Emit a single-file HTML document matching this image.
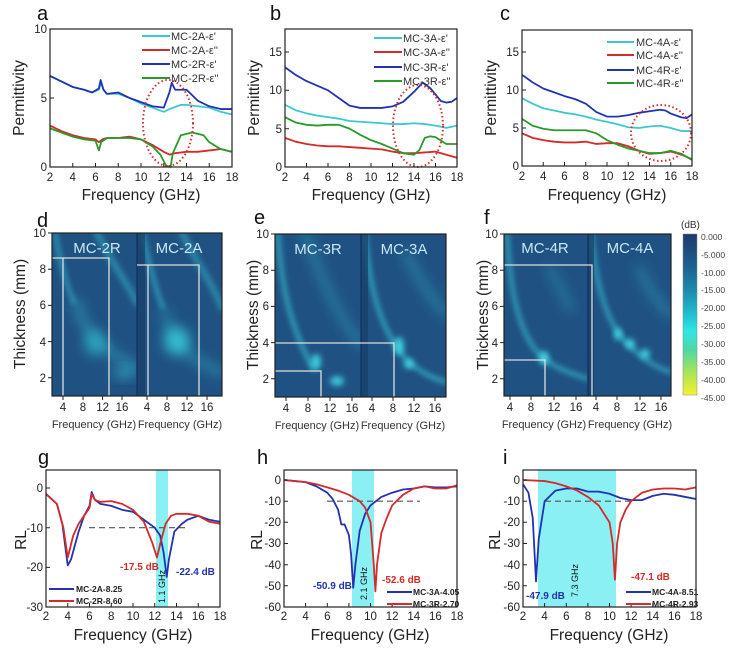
<!DOCTYPE html>
<html><head><meta charset="utf-8"><style>
html,body{margin:0;padding:0;background:#fff;}
svg{display:block;font-family:"Liberation Sans",sans-serif;}
.ax{fill:none;stroke:#222;stroke-width:1.2}
.tk{stroke:#222;stroke-width:1}
.c{fill:none;stroke-width:1.8;vector-effect:non-scaling-stroke;stroke-linejoin:round}
.t{font-size:11.5px;fill:#222}
.lg{font-size:11px;fill:#333}
.lb{font-size:8.5px;font-weight:bold;fill:#222}
.L{font-size:20px;fill:#111}
.xl{font-size:15.5px;fill:#222}
.hx{font-size:11px;fill:#333}
.hl{fill:none;stroke:#ddd;stroke-width:1.3}
.glow{fill:none;stroke:#3fe0e8;stroke-linecap:round}
</style></head><body>
<svg width="749" height="649" viewBox="0 0 749 649" xmlns="http://www.w3.org/2000/svg">
<defs>
<filter id="bl" x="-50%" y="-50%" width="200%" height="200%"><feGaussianBlur stdDeviation="3"/></filter>
<filter id="bl2" x="-50%" y="-50%" width="200%" height="200%"><feGaussianBlur stdDeviation="6"/></filter>
<linearGradient id="cb" x1="0" y1="0" x2="0" y2="1">
<stop offset="0" stop-color="#1b3a6c"/><stop offset="0.2" stop-color="#1e5f8e"/><stop offset="0.35" stop-color="#1c8aac"/>
<stop offset="0.5" stop-color="#1ec0d2"/><stop offset="0.6" stop-color="#2ee6e6"/><stop offset="0.72" stop-color="#4ed8a6"/>
<stop offset="0.85" stop-color="#a5e25a"/><stop offset="1" stop-color="#f4f22c"/></linearGradient>
</defs>

<!-- ============ Panel a ============ -->
<text class="L" x="37" y="20">a</text>
<g transform="translate(27.25,167) scale(11.375,-13.8)">
<polyline class="c" stroke="#3cc8d0" points="2,6.6 3,6.2 4,5.8 5,5.6 5.7,5.4 6.3,5.6 6.5,6.1 6.7,5.6 7,5.3 8,5.3 9,5.0 10,4.6 11,4.3 12,4.0 12.5,4.2 13.5,4.5 14,4.5 15,4.4 16,4.3 17,4.0 18,3.8"/>
<polyline class="c" stroke="#d42a2a" points="2,3.0 3,2.6 4,2.3 5,2.1 6,2.0 6.3,1.8 6.6,2.0 7,2.1 8,2.1 9,2.2 10,2.0 11,1.6 12,1.1 12.5,0.9 13,1.0 14,1.1 15,1.1 16,1.2 17,1.3 18,1.1"/>
<polyline class="c" stroke="#2233b0" points="2,6.6 3,6.2 4,5.8 5,5.6 5.7,5.4 6.3,5.7 6.45,6.3 6.7,5.6 7,5.3 8,5.4 9,5.0 10,4.7 11,4.4 12,4.3 12.5,5.4 12.7,6.1 13,5.6 14,5.6 15,4.8 16,4.4 17,4.2 18,4.2"/>
<polyline class="c" stroke="#2a9a2a" points="2,2.8 3,2.5 4,2.2 5,2.0 6,1.9 6.3,1.2 6.5,1.8 7,2.1 8,2.1 9,2.1 10,2.0 11,1.5 11.7,0.9 12.2,0.1 12.6,0 12.8,1.0 13.5,2.3 14.5,2.5 15.5,2.3 16,1.8 17,1.3 18,1.1"/>
</g>
<ellipse cx="168" cy="123" rx="25" ry="43" fill="none" stroke="#d43030" stroke-width="2" stroke-dasharray="1.5 2.5"/>
<rect class="ax" x="50" y="29" width="182" height="138"/>
<g class="tk"><path d="M50,167v-4M72.75,167v-4M95.5,167v-4M118.25,167v-4M141,167v-4M163.75,167v-4M186.5,167v-4M209.25,167v-4M232,167v-4M50,167h4M50,98h4M50,29h4"/></g>
<g class="t" text-anchor="middle"><text x="50" y="181">2</text><text x="72.75" y="181">4</text><text x="95.5" y="181">6</text><text x="118.25" y="181">8</text><text x="141" y="181">10</text><text x="163.75" y="181">12</text><text x="186.5" y="181">14</text><text x="209.25" y="181">16</text><text x="232" y="181">18</text></g>
<g class="t" text-anchor="end"><text x="47" y="171">0</text><text x="47" y="102">5</text><text x="47" y="33">10</text></g>
<text class="xl" x="141" y="200" text-anchor="middle">Frequency (GHz)</text>
<text class="xl" transform="translate(24,98) rotate(-90)" text-anchor="middle">Permittivity</text>
<g stroke-width="2"><line x1="142" y1="36" x2="170" y2="36" stroke="#3cc8d0"/><line x1="142" y1="50" x2="170" y2="50" stroke="#d42a2a"/><line x1="142" y1="64" x2="170" y2="64" stroke="#2233b0"/><line x1="142" y1="78" x2="170" y2="78" stroke="#2a9a2a"/></g>
<g class="lg"><text x="171" y="40">MC-2A-ε'</text><text x="171" y="54">MC-2A-ε''</text><text x="171" y="68">MC-2R-ε'</text><text x="171" y="82">MC-2R-ε''</text></g>

<!-- ============ Panel b ============ -->
<text class="L" x="270" y="20">b</text>
<g transform="translate(263.5,167) scale(10.75,-7.67)">
<polyline class="c" stroke="#3cc8d0" points="2,8.1 3,7.4 4,7 5,6.7 6,6.5 7,6.3 8,6.0 9,5.9 10,5.8 11,5.7 12,5.6 13,5.6 14,5.7 15,5.6 16,5.4 17,5.1 18,5.4"/>
<polyline class="c" stroke="#d42a2a" points="2,3.8 3,3.3 4,3.0 5,2.8 6,2.7 7,2.7 8,2.6 9,2.5 10,2.4 11,2.3 12,2.0 13,1.8 14,1.8 15,1.9 16,2.0 17,1.6 18,1.2"/>
<polyline class="c" stroke="#2233b0" points="2,13 3,12 4,11.2 5,10.6 6,10 7,9 8,8 9,7.7 10,7.7 11,7.7 12,7.9 13,8.5 14,9.8 14.8,11 15.5,10.3 16.5,8.6 17,8.4 17.5,8.5 18,9"/>
<polyline class="c" stroke="#2a9a2a" points="2,6.5 3,5.8 4,5.5 5,5.4 6,5.5 7,5.5 8,5.0 9,4.2 10,3.5 11,3.0 12,2.4 13,1.8 14,1.6 14.5,2.2 15,3.8 15.5,4 16,3.9 17,3.0 18,3.0"/>
</g>
<ellipse cx="418" cy="126" rx="25" ry="41" fill="none" stroke="#d43030" stroke-width="2" stroke-dasharray="1.5 2.5"/>
<rect class="ax" x="285" y="29" width="172" height="138"/>
<g class="tk"><path d="M285,167v-4M306.5,167v-4M328,167v-4M349.5,167v-4M371,167v-4M392.5,167v-4M414,167v-4M435.5,167v-4M457,167v-4M285,167h4M285,128.7h4M285,90.3h4M285,52h4"/></g>
<g class="t" text-anchor="middle"><text x="285" y="181">2</text><text x="306.5" y="181">4</text><text x="328" y="181">6</text><text x="349.5" y="181">8</text><text x="371" y="181">10</text><text x="392.5" y="181">12</text><text x="414" y="181">14</text><text x="435.5" y="181">16</text><text x="457" y="181">18</text></g>
<g class="t" text-anchor="end"><text x="282" y="171">0</text><text x="282" y="133">5</text><text x="282" y="94">10</text><text x="282" y="56">15</text></g>
<text class="xl" x="371" y="200" text-anchor="middle">Frequency (GHz)</text>
<text class="xl" transform="translate(259,98) rotate(-90)" text-anchor="middle">Permittivity</text>
<g stroke-width="2"><line x1="374" y1="38" x2="402" y2="38" stroke="#3cc8d0"/><line x1="374" y1="52" x2="402" y2="52" stroke="#d42a2a"/><line x1="374" y1="67" x2="402" y2="67" stroke="#2233b0"/><line x1="374" y1="81" x2="402" y2="81" stroke="#2a9a2a"/></g>
<g class="lg"><text x="403" y="42">MC-3A-ε'</text><text x="403" y="56">MC-3A-ε''</text><text x="403" y="71">MC-3R-ε'</text><text x="403" y="85">MC-3R-ε''</text></g>

<!-- ============ Panel c ============ -->
<text class="L" x="500" y="20">c</text>
<g transform="translate(500.75,166) scale(10.625,-7.6)">
<polyline class="c" stroke="#3cc8d0" points="2,8.9 3,8.2 4,7.6 5,7.3 6,7 7,6.8 8,6.5 9,6.1 10,5.8 11,5.5 12,5.1 13,5 14,5.2 15,5.3 16,5 17,4.6 18,4.6"/>
<polyline class="c" stroke="#d42a2a" points="2,4.3 3,3.7 4,3.4 5,3.2 6,3.1 7,3.1 8,3.2 9,2.9 10,3.0 11,3.0 12,2.6 13,2.0 14,1.6 15,1.7 16,1.9 17,1.5 18,0.9"/>
<polyline class="c" stroke="#2233b0" points="2,12 3,11 4,10.2 5,9.7 6,9.2 7,8.8 8,8.2 9,7.1 10,6.5 11,6.5 12,6.7 13,7 14,7.2 15,7.4 15.5,7.3 16,6.9 17,6.4 17.5,6.3 18,6.8"/>
<polyline class="c" stroke="#2a9a2a" points="2,6.2 3,5.3 4,4.9 5,4.7 6,4.7 7,4.7 8,4.7 9,4.3 10,3.4 11,2.8 12,2.3 13,2.0 14,1.7 15,1.7 16,2.0 17,1.6 18,0.8"/>
</g>
<ellipse cx="661" cy="133" rx="30" ry="28" fill="none" stroke="#d43030" stroke-width="2" stroke-dasharray="1.5 2.5"/>
<rect class="ax" x="522" y="30" width="170" height="136"/>
<g class="tk"><path d="M522,166v-4M543.25,166v-4M564.5,166v-4M585.75,166v-4M607,166v-4M628.25,166v-4M649.5,166v-4M670.75,166v-4M692,166v-4M522,166h4M522,128h4M522,90h4M522,52h4"/></g>
<g class="t" text-anchor="middle"><text x="522" y="180">2</text><text x="543.25" y="180">4</text><text x="564.5" y="180">6</text><text x="585.75" y="180">8</text><text x="607" y="180">10</text><text x="628.25" y="180">12</text><text x="649.5" y="180">14</text><text x="670.75" y="180">16</text><text x="692" y="180">18</text></g>
<g class="t" text-anchor="end"><text x="519" y="170">0</text><text x="519" y="132">5</text><text x="519" y="94">10</text><text x="519" y="56">15</text></g>
<text class="xl" x="607" y="200" text-anchor="middle">Frequency (GHz)</text>
<text class="xl" transform="translate(496,98) rotate(-90)" text-anchor="middle">Permittivity</text>
<g stroke-width="2"><line x1="607" y1="42" x2="634" y2="42" stroke="#3cc8d0"/><line x1="607" y1="55" x2="634" y2="55" stroke="#d42a2a"/><line x1="607" y1="70" x2="634" y2="70" stroke="#2233b0"/><line x1="607" y1="83" x2="634" y2="83" stroke="#2a9a2a"/></g>
<g class="lg"><text x="636" y="46">MC-4A-ε'</text><text x="636" y="59">MC-4A-ε''</text><text x="636" y="74">MC-4R-ε'</text><text x="636" y="87">MC-4R-ε''</text></g>

<!-- ============ Panel d ============ -->
<text class="L" x="37" y="227">d</text>
<svg x="52" y="233" width="85" height="163" overflow="hidden">
<rect width="85" height="163" fill="#1f5282"/>
<path class="glow" d="M3,0 C8,30 14,50 22,70" stroke-width="3" filter="url(#bl)" opacity="0.7"/>
<path class="glow" d="M45,0 C60,30 75,50 85,70" stroke-width="6" filter="url(#bl)" opacity="0.4"/>
<ellipse cx="43" cy="110" rx="11" ry="13" fill="#30c0d0" filter="url(#bl2)" opacity="0.6"/>
<path class="glow" d="M25,70 C30,95 45,115 85,135" stroke-width="8" filter="url(#bl2)" opacity="0.4"/>
<ellipse cx="72" cy="140" rx="11" ry="6" fill="#35c8d8" filter="url(#bl2)" opacity="0.55"/>
<line x1="23" y1="60" x2="23" y2="163" stroke="#173e66" stroke-width="3" filter="url(#bl)"/>
</svg>
<svg x="137" y="233" width="85" height="163" overflow="hidden">
<rect width="85" height="163" fill="#1f5282"/>
<path class="glow" d="M5,0 C12,30 18,55 26,75" stroke-width="3" filter="url(#bl)" opacity="0.75"/>
<path class="glow" d="M45,0 C60,30 75,50 85,75" stroke-width="6" filter="url(#bl)" opacity="0.4"/>
<ellipse cx="40" cy="108" rx="13" ry="14" fill="#38d4e0" filter="url(#bl2)" opacity="0.75"/>
<path class="glow" d="M28,80 C35,110 50,125 85,140" stroke-width="8" filter="url(#bl2)" opacity="0.35"/>
<rect x="0" y="0" width="8" height="163" fill="#173e66" opacity="0.7"/>
</svg>
<line x1="137" y1="233" x2="137" y2="396" stroke="#163560" stroke-width="1.5"/>
<g class="hl"><path d="M52,258H109V396M63,258V396"/><path d="M137,265H199V396M148,265V396"/></g>
<text x="97" y="253" text-anchor="middle" font-size="15" fill="#c8e8f0">MC-2R</text>
<text x="179" y="253" text-anchor="middle" font-size="15" fill="#c8e8f0">MC-2A</text>
<rect class="ax" x="52" y="233" width="170" height="163"/>
<g class="tk"><path d="M52,233h-4M52,269.2h-4M52,305.4h-4M52,341.6h-4M52,377.8h-4M63,396v4M83,396v4M102.6,396v4M122,396v4M147,396v4M167,396v4M187,396v4M207,396v4"/></g>
<g class="t" text-anchor="end"><text x="46" y="237">10</text><text x="46" y="273">8</text><text x="46" y="309">6</text><text x="46" y="346">4</text><text x="46" y="382">2</text></g>
<g class="t" text-anchor="middle"><text x="63" y="411">4</text><text x="83" y="411">8</text><text x="102.6" y="411">12</text><text x="122" y="411">16</text><text x="147" y="411">4</text><text x="167" y="411">8</text><text x="187" y="411">12</text><text x="207" y="411">16</text></g>
<text class="hx" x="94" y="428" text-anchor="middle">Frequency (GHz)</text><text class="hx" x="180" y="428" text-anchor="middle">Frequency (GHz)</text>
<text class="xl" transform="translate(25,314) rotate(-90)" text-anchor="middle" font-size="14">Thickness (mm)</text>

<!-- ============ Panel e ============ -->
<text class="L" x="254" y="224">e</text>
<svg x="275" y="234" width="86" height="163" overflow="hidden">
<rect width="86" height="163" fill="#1f5282"/>
<path class="glow" d="M3,0 C6,50 14,90 38,135" stroke-width="3" filter="url(#bl)" opacity="0.85"/>
<path class="glow" d="M30,0 C45,40 60,80 86,110" stroke-width="7" filter="url(#bl2)" opacity="0.35"/>
<ellipse cx="41" cy="128" rx="5" ry="8" fill="#45e0ea" filter="url(#bl)" opacity="0.85"/>
<ellipse cx="62" cy="147" rx="7" ry="5" fill="#40d8e6" filter="url(#bl)" opacity="0.85"/>
</svg>
<svg x="361" y="234" width="85" height="163" overflow="hidden">
<rect width="85" height="163" fill="#1f5282"/>
<path class="glow" d="M4,0 C8,50 18,95 45,125 C60,140 75,145 85,148" stroke-width="3" filter="url(#bl)" opacity="0.85"/>
<ellipse cx="38" cy="112" rx="5" ry="9" fill="#45e0ea" filter="url(#bl)" opacity="0.85"/>
<ellipse cx="48" cy="130" rx="5" ry="5" fill="#45e0ea" filter="url(#bl)" opacity="0.85"/>
<path class="glow" d="M45,20 C60,50 75,70 85,80" stroke-width="7" filter="url(#bl2)" opacity="0.35"/>
<rect x="0" y="0" width="7" height="163" fill="#173e66" opacity="0.7"/>
</svg>
<line x1="361" y1="234" x2="361" y2="397" stroke="#163560" stroke-width="1.5"/>
<g class="hl"><path d="M275,343H394V397M275,371H321V397"/></g>
<text x="318" y="254" text-anchor="middle" font-size="15" fill="#c8e8f0">MC-3R</text>
<text x="404" y="254" text-anchor="middle" font-size="15" fill="#c8e8f0">MC-3A</text>
<rect class="ax" x="275" y="234" width="171" height="163"/>
<g class="tk"><path d="M275,234h-4M275,270.2h-4M275,306.4h-4M275,342.6h-4M275,378.8h-4M286,397v4M308,397v4M330,397v4M352,397v4M372,397v4M393,397v4M414,397v4M435,397v4"/></g>
<g class="t" text-anchor="end"><text x="269" y="238">10</text><text x="269" y="274">8</text><text x="269" y="310">6</text><text x="269" y="347">4</text><text x="269" y="383">2</text></g>
<g class="t" text-anchor="middle"><text x="286" y="412">4</text><text x="308" y="412">8</text><text x="330" y="412">12</text><text x="352" y="412">16</text><text x="372" y="412">4</text><text x="393" y="412">8</text><text x="414" y="412">12</text><text x="435" y="412">16</text></g>
<text class="hx" x="317" y="429" text-anchor="middle">Frequency (GHz)</text><text class="hx" x="403" y="429" text-anchor="middle">Frequency (GHz)</text>
<text class="xl" transform="translate(258,315) rotate(-90)" text-anchor="middle" font-size="14">Thickness (mm)</text>

<!-- ============ Panel f ============ -->
<text class="L" x="484" y="224">f</text>
<svg x="504" y="234" width="84" height="162" overflow="hidden">
<rect width="84" height="162" fill="#1f5282"/>
<path class="glow" d="M3,0 C6,50 12,95 35,120 C50,135 70,140 84,145" stroke-width="3" filter="url(#bl)" opacity="0.8"/>
<ellipse cx="40" cy="124" rx="5" ry="7" fill="#45e0ea" filter="url(#bl)" opacity="0.85"/>
<path class="glow" d="M45,35 C55,50 60,60 66,75" stroke-width="6" filter="url(#bl2)" opacity="0.35"/>
</svg>
<svg x="588" y="234" width="83" height="162" overflow="hidden">
<rect width="83" height="162" fill="#1f5282"/>
<path class="glow" d="M3,0 C8,50 18,90 40,110 C55,125 70,135 83,138" stroke-width="3" filter="url(#bl)" opacity="0.8"/>
<ellipse cx="30" cy="100" rx="4" ry="6" fill="#45e0ea" filter="url(#bl)" opacity="0.85"/>
<ellipse cx="42" cy="110" rx="5" ry="5" fill="#45e0ea" filter="url(#bl)" opacity="0.85"/>
<ellipse cx="57" cy="120" rx="5" ry="5" fill="#45e0ea" filter="url(#bl)" opacity="0.85"/>
<path class="glow" d="M52,35 C60,55 70,70 83,80" stroke-width="7" filter="url(#bl2)" opacity="0.35"/>
<rect x="0" y="0" width="6" height="162" fill="#173e66" opacity="0.7"/>
</svg>
<line x1="588" y1="234" x2="588" y2="396" stroke="#163560" stroke-width="1.5"/>
<g class="hl"><path d="M504,265H592V396M504,360H545V396"/></g>
<text x="545" y="253" text-anchor="middle" font-size="15" fill="#c8e8f0">MC-4R</text>
<text x="630" y="253" text-anchor="middle" font-size="15" fill="#c8e8f0">MC-4A</text>
<rect class="ax" x="504" y="234" width="167" height="162"/>
<g class="tk"><path d="M504,234h-4M504,270.2h-4M504,306.4h-4M504,342.6h-4M504,378.8h-4M510,396v4M531,396v4M554,396v4M576,396v4M596,396v4M617,396v4M640,396v4M661,396v4"/></g>
<g class="t" text-anchor="end"><text x="498" y="238">10</text><text x="498" y="274">8</text><text x="498" y="310">6</text><text x="498" y="347">4</text><text x="498" y="383">2</text></g>
<g class="t" text-anchor="middle"><text x="510" y="411">4</text><text x="531" y="411">8</text><text x="554" y="411">12</text><text x="576" y="411">16</text><text x="596" y="411">4</text><text x="617" y="411">8</text><text x="640" y="411">12</text><text x="661" y="411">16</text></g>
<text class="hx" x="544" y="428" text-anchor="middle">Frequency (GHz)</text><text class="hx" x="630" y="428" text-anchor="middle">Frequency (GHz)</text>
<text class="xl" transform="translate(488,315) rotate(-90)" text-anchor="middle" font-size="14">Thickness (mm)</text>

<!-- colorbar -->
<rect x="683" y="234" width="14" height="161" fill="url(#cb)" stroke="#888" stroke-width="0.5"/>
<text x="681" y="228" font-size="10" fill="#333">(dB)</text>
<g font-size="8.5" fill="#444">
<text x="701" y="240">0.000</text><text x="701" y="258">-5.000</text><text x="701" y="276">-10.00</text><text x="701" y="293">-15.00</text><text x="701" y="311">-20.00</text><text x="701" y="329">-25.00</text><text x="701" y="347">-30.00</text><text x="701" y="365">-35.00</text><text x="701" y="383">-40.00</text><text x="701" y="401">-45.00</text></g>

<!-- ============ Panel g ============ -->
<text class="L" x="38" y="464">g</text>
<rect x="156" y="470" width="12" height="137" fill="#8af0f4"/>
<line x1="89" y1="527.7" x2="187" y2="527.7" stroke="#555" stroke-width="1.2" stroke-dasharray="6 4"/>
<g transform="translate(24.25,488) scale(10.875,-3.97)">
<polyline class="c" stroke="#2233b0" points="2,-1.5 3,-4 3.5,-9 4,-19.5 4.3,-18 5,-11 5.5,-7 6,-4.5 6.2,-1 6.5,-3 7,-4 8,-4.5 9,-5.5 10,-6 11,-8 12,-10 12.5,-12 12.8,-16 13.1,-22.4 13.3,-18 13.8,-11 14.5,-9 15,-8 16,-7 17,-8 18,-8.5"/>
<polyline class="c" stroke="#d42a2a" points="2,-1.5 3,-4 3.6,-10 4,-17.5 4.5,-12 5,-9 6,-5 6.2,-1.5 6.5,-3 7,-3.5 8,-3.3 9,-4 10,-5.5 11,-8.5 11.8,-14 12.2,-17.5 12.6,-13 13,-9 13.5,-7 14,-6.5 15,-6.5 16,-7 17,-8.5 18,-9"/>
</g>
<rect class="ax" x="46" y="470" width="174" height="137"/>
<g class="tk"><path d="M46,607v-4M67.75,607v-4M89.5,607v-4M111.25,607v-4M133,607v-4M154.75,607v-4M176.5,607v-4M198.25,607v-4M220,607v-4M46,488h4M46,527.7h4M46,567.4h4M46,607h4"/></g>
<g class="t" text-anchor="middle" font-size="11"><text x="46" y="620">2</text><text x="67.75" y="620">4</text><text x="89.5" y="620">6</text><text x="111.25" y="620">8</text><text x="133" y="620">10</text><text x="154.75" y="620">12</text><text x="176.5" y="620">14</text><text x="198.25" y="620">16</text><text x="220" y="620">18</text></g>
<g class="t" text-anchor="end"><text x="43" y="492">0</text><text x="43" y="532">-10</text><text x="43" y="571">-20</text><text x="43" y="611">-30</text></g>
<text class="xl" x="133" y="640" text-anchor="middle" font-size="17">Frequency (GHz)</text>
<text class="xl" transform="translate(26,540) rotate(-90)" text-anchor="middle" font-size="17">RL</text>
<text x="120" y="570" font-size="10" font-weight="bold" fill="#d42a2a">-17.5 dB</text>
<text x="176" y="575" font-size="10" font-weight="bold" fill="#2233b0">-22.4 dB</text>
<text transform="translate(165,603) rotate(-90)" font-size="9" fill="#111">1.1 GHz</text>
<g stroke-width="2"><line x1="49" y1="589" x2="74" y2="589" stroke="#2233b0"/><line x1="49" y1="601" x2="74" y2="601" stroke="#d42a2a"/></g>
<g class="lb"><text x="76" y="592">MC-2A-8.25</text><text x="76" y="604">MC-2R-8.60</text></g>

<!-- ============ Panel h ============ -->
<text class="L" x="257" y="464">h</text>
<rect x="352" y="470" width="22" height="137" fill="#8af0f4"/>
<line x1="327" y1="501.2" x2="420" y2="501.2" stroke="#555" stroke-width="1.2" stroke-dasharray="6 4"/>
<g transform="translate(262.4,480) scale(10.8125,-2.117)">
<polyline class="c" stroke="#2233b0" points="2,0 3,-0.5 4,-1 5,-3 6,-6 6.5,-9 7,-14 7.3,-21 7.6,-21 8,-26 8.2,-35 8.4,-50.9 8.6,-40 9,-24 9.5,-16 10,-12 11,-8 12,-6 13,-4.5 14,-4 15,-3 16,-3.5 17,-3.5 18,-3"/>
<polyline class="c" stroke="#d42a2a" points="2,0 4,-1 5,-2 6,-3.5 7,-5 8,-7 9,-10 9.5,-13 10,-20 10.3,-40 10.45,-52.6 10.6,-40 11,-25 11.5,-18 12,-12 13,-7 14,-4 15,-3 16,-4 17,-4 18,-2.5"/>
</g>
<rect class="ax" x="284" y="470" width="173" height="137"/>
<g class="tk"><path d="M284,607v-4M305.6,607v-4M327.3,607v-4M348.9,607v-4M370.5,607v-4M392.1,607v-4M413.8,607v-4M435.4,607v-4M457,607v-4M284,480h4M284,501.2h4M284,522.3h4M284,543.5h4M284,564.7h4M284,585.8h4M284,607h4"/></g>
<g class="t" text-anchor="middle" font-size="11"><text x="284" y="620">2</text><text x="305.6" y="620">4</text><text x="327.3" y="620">6</text><text x="348.9" y="620">8</text><text x="370.5" y="620">10</text><text x="392.1" y="620">12</text><text x="413.8" y="620">14</text><text x="435.4" y="620">16</text><text x="457" y="620">18</text></g>
<g class="t" text-anchor="end"><text x="281" y="484">0</text><text x="281" y="505">-10</text><text x="281" y="526">-20</text><text x="281" y="547">-30</text><text x="281" y="569">-40</text><text x="281" y="590">-50</text><text x="281" y="611">-60</text></g>
<text class="xl" x="370" y="640" text-anchor="middle" font-size="17">Frequency (GHz)</text>
<text class="xl" transform="translate(262,540) rotate(-90)" text-anchor="middle" font-size="17">RL</text>
<text x="313" y="589" font-size="10" font-weight="bold" fill="#2233b0">-50.9 dB</text>
<text x="382" y="583" font-size="10" font-weight="bold" fill="#d42a2a">-52.6 dB</text>
<text transform="translate(367,600) rotate(-90)" font-size="9" fill="#111">2.1 GHz</text>
<g stroke-width="2"><line x1="387" y1="592" x2="412" y2="592" stroke="#2233b0"/><line x1="387" y1="604" x2="412" y2="604" stroke="#d42a2a"/></g>
<g class="lb"><text x="413" y="595">MC-3A-4.05</text><text x="413" y="607">MC-3R-2.70</text></g>

<!-- ============ Panel i ============ -->
<text class="L" x="503" y="464">i</text>
<rect x="538" y="470" width="78" height="137" fill="#8af0f4"/>
<line x1="545" y1="501.2" x2="630" y2="501.2" stroke="#555" stroke-width="1.2" stroke-dasharray="6 4"/>
<g transform="translate(501.4,480) scale(10.8125,-2.117)">
<polyline class="c" stroke="#2233b0" points="2,-2 2.5,-6 2.9,-18 3.2,-47.9 3.45,-28 4,-10 5,-5 6,-4 7,-4 8,-5.5 9,-5.5 10,-6.5 11,-8.5 12,-9.5 13,-9.5 14,-7.5 15,-6.5 16,-7 17,-8 18,-9"/>
<polyline class="c" stroke="#d42a2a" points="2,0 4,-0.5 5,-1.5 6,-3 7,-5 8,-8 9,-12 10,-20 10.3,-30 10.5,-47.1 10.7,-30 11,-20 11.5,-14 12,-10 13,-6 14,-4.5 15,-4 16,-4 17,-4.5 18,-3.5"/>
</g>
<rect class="ax" x="523" y="470" width="173" height="137"/>
<g class="tk"><path d="M523,607v-4M544.6,607v-4M566.3,607v-4M587.9,607v-4M609.5,607v-4M631.1,607v-4M652.8,607v-4M674.4,607v-4M696,607v-4M523,480h4M523,501.2h4M523,522.3h4M523,543.5h4M523,564.7h4M523,585.8h4M523,607h4"/></g>
<g class="t" text-anchor="middle" font-size="11"><text x="523" y="620">2</text><text x="544.6" y="620">4</text><text x="566.3" y="620">6</text><text x="587.9" y="620">8</text><text x="609.5" y="620">10</text><text x="631.1" y="620">12</text><text x="652.8" y="620">14</text><text x="674.4" y="620">16</text><text x="696" y="620">18</text></g>
<g class="t" text-anchor="end"><text x="520" y="484">0</text><text x="520" y="505">-10</text><text x="520" y="526">-20</text><text x="520" y="547">-30</text><text x="520" y="569">-40</text><text x="520" y="590">-50</text><text x="520" y="611">-60</text></g>
<text class="xl" x="609" y="640" text-anchor="middle" font-size="17">Frequency (GHz)</text>
<text class="xl" transform="translate(500,540) rotate(-90)" text-anchor="middle" font-size="17">RL</text>
<text x="526" y="599" font-size="10" font-weight="bold" fill="#2233b0">-47.9 dB</text>
<text x="631" y="580" font-size="10" font-weight="bold" fill="#d42a2a">-47.1 dB</text>
<text transform="translate(578,597) rotate(-90)" font-size="9" fill="#111">7.3 GHz</text>
<g stroke-width="2"><line x1="626" y1="592" x2="651" y2="592" stroke="#2233b0"/><line x1="626" y1="604" x2="651" y2="604" stroke="#d42a2a"/></g>
<g class="lb"><text x="652" y="595">MC-4A-8.51</text><text x="652" y="607">MC-4R-2.93</text></g>
</svg>
</body></html>
